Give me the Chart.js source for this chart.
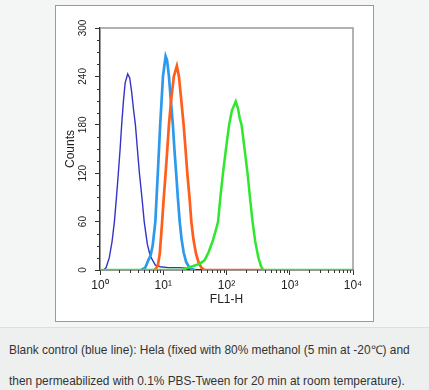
<!DOCTYPE html>
<html>
<head>
<meta charset="utf-8">
<script src="https://cdn.jsdelivr.net/npm/chart.js@4.4.0/dist/chart.umd.min.js"></script>
<style>
  body { margin: 0; width: 429px; height: 390px; background: #f4f5f5; position: relative; overflow: hidden;
         font-family: "Liberation Sans", Arial, sans-serif; }
  #frame { position: absolute; left: 55px; top: 5px; width: 317px; height: 315px;
           border: 1px solid #9a9a9a; background: #fff; }
  #caption { position: absolute; left: 0; top: 327px; height: 63px; padding: 7px 0 0 9px;
             box-sizing: border-box; width: 429px; background: #eef0ef; border-top: 1px solid #dedede;
             font-size: 11.9px; line-height: 31px; color: #333; white-space: nowrap; }
</style>
</head>
<body>
<div id="frame"><canvas id="myChart" width="317" height="315"></canvas></div>
<div id="caption">Blank control (blue line): Hela (fixed with 80% methanol (5 min at -20℃) and<br>then permeabilized with 0.1% PBS-Tween for 20 min at room temperature).</div>
<script>
// FL1-H channel / counts
const blankX = [1.0, 1.15, 1.25, 1.4, 1.55, 1.69, 1.82, 1.95, 2.08, 2.2, 2.35, 2.5, 2.74, 2.95, 3.15, 3.4, 3.63, 3.9, 4.2, 4.6, 5.0, 5.6, 6.2, 6.8, 7.5, 9, 12, 18, 26, 32];
const blankY = [0, 0, 3, 15, 35, 60, 90, 120, 150, 180, 210, 232, 243, 238, 222, 198, 180, 150, 120, 90, 60, 32, 18, 12, 6, 4, 3, 3, 2, 0];

const blueX = [4.5, 5.2, 5.8, 6.3, 6.8, 7.5, 8.2, 8.95, 9.9, 10.9, 11.5, 12.3, 13.2, 14.2, 15, 16, 17, 18.2, 19.5, 21, 23, 25, 28, 32];
const blueY = [0, 3, 12, 18, 30, 60, 120, 180, 240, 265, 260, 240, 210, 180, 150, 120, 90, 60, 38, 22, 10, 5, 1, 0];

const orangeX = [7.3, 8.2, 8.8, 9.2, 9.6, 10.2, 10.9, 11.6, 12.3, 13.3, 14.7, 16.4, 17.7, 19.3, 21, 22.5, 24, 26, 27.8, 30, 33, 36, 40, 45, 400];
const orangeY = [0, 5, 20, 40, 60, 90, 120, 150, 180, 210, 240, 253, 240, 210, 180, 150, 120, 90, 60, 38, 20, 10, 3, 0, 0];

const greenX = [1, 20, 25, 30, 38, 45, 52, 60, 67, 73.6, 80, 88, 98, 110, 122, 140, 152, 162, 173, 193, 215, 235, 258, 285, 320, 350, 380, 10000];
const greenY = [0, 0, 3, 5, 8, 12, 22, 35, 48, 60, 90, 120, 150, 180, 198, 209, 200, 188, 180, 150, 120, 90, 60, 35, 15, 5, 0, 0];

const xMajor = [1, 10, 100, 1000, 10000];
const xLabels = ['10⁰', '10¹', '10²', '10³', '10⁴'];
const yMajor = [0, 60, 120, 180, 240, 300];

function pts(xs, ys) {
    return xs.map((x, i) => ({ x: x, y: ys[i] }));
}

const frameBox = {
    id: 'frameBox',
    afterDraw(chart) {
        const { ctx, chartArea: a, scales } = chart;
        ctx.save();
        ctx.strokeStyle = '#999';
        ctx.lineWidth = 1.5;
        ctx.beginPath();
        ctx.moveTo(a.left, a.top);
        ctx.lineTo(a.right, a.top);
        ctx.lineTo(a.right, a.bottom);
        ctx.stroke();
        // minor ticks
        ctx.strokeStyle = '#333';
        ctx.lineWidth = 1;
        ctx.beginPath();
        for (let v = 15; v < 300; v += 15) {
            if (v % 60 === 0) continue;
            const y = Math.round(scales.y.getPixelForValue(v)) + 0.5;
            ctx.moveTo(a.left - 3, y);
            ctx.lineTo(a.left, y);
        }
        for (let d = 1; d < 10000; d *= 10) {
            for (let k = 2; k < 10; k++) {
                const x = Math.round(scales.x.getPixelForValue(d * k)) + 0.5;
                ctx.moveTo(x, a.bottom);
                ctx.lineTo(x, a.bottom + 3);
            }
        }
        ctx.stroke();
        ctx.restore();
    }
};

const data = {
    datasets: [
        { label: 'Blank', data: pts(blankX, blankY), borderColor: '#3434c8', borderWidth: 1.4, order: 4 },
        { label: 'Blue', data: pts(blueX, blueY), borderColor: '#2c98ee', borderWidth: 2.7, order: 3 },
        { label: 'Orange', data: pts(orangeX, orangeY), borderColor: '#ff5e1c', borderWidth: 2.7, order: 2 },
        { label: 'Green', data: pts(greenX, greenY), borderColor: '#2ee82e', borderWidth: 2.5, order: 1 }
    ]
};

const config = {
    type: 'line',
    data: data,
    options: {
        responsive: false,
        animation: false,
        layout: { padding: { top: 22, right: 20, left: 0, bottom: 0 } },
        elements: { point: { radius: 0 }, line: { tension: 0 } },
        plugins: { legend: { display: false }, tooltip: { enabled: false } },
        scales: {
            x: {
                type: 'logarithmic',
                min: 1,
                max: 10000,
                afterBuildTicks: (s) => { s.ticks = xMajor.map(v => ({ value: v })); },
                afterFit: (s) => { s.height = 51; },
                border: { display: true, color: '#333', width: 1.5 },
                grid: { drawOnChartArea: false, tickLength: 5, color: '#333' },
                ticks: {
                    padding: 3,
                    maxRotation: 0,
                    autoSkip: false,
                    color: '#222',
                    font: { family: 'Liberation Sans', size: 12 },
                    callback: (v) => xLabels[xMajor.indexOf(v)]
                },
                title: { display: true, text: 'FL1-H', color: '#222', padding: { bottom: 14, top: 0 },
                         font: { family: 'Liberation Sans', size: 12 } }
            },
            y: {
                min: 0,
                max: 300,
                afterBuildTicks: (s) => { s.ticks = yMajor.map(v => ({ value: v })); },
                afterFit: (s) => { s.width = 44; },
                border: { display: true, color: '#333', width: 1.5 },
                grid: { drawOnChartArea: false, tickLength: 5, color: '#333' },
                ticks: {
                    padding: 3,
                    minRotation: 90,
                    maxRotation: 90,
                    crossAlign: 'center',
                    color: '#222',
                    font: { family: 'Liberation Sans', size: 10 }
                },
                title: { display: true, text: 'Counts', color: '#222', padding: { top: 7, bottom: 0 },
                         font: { family: 'Liberation Sans', size: 12 } }
            }
        }
    },
    plugins: [frameBox]
};

let myChart = new Chart(document.getElementById('myChart'), config);
</script>
</body>
</html>
